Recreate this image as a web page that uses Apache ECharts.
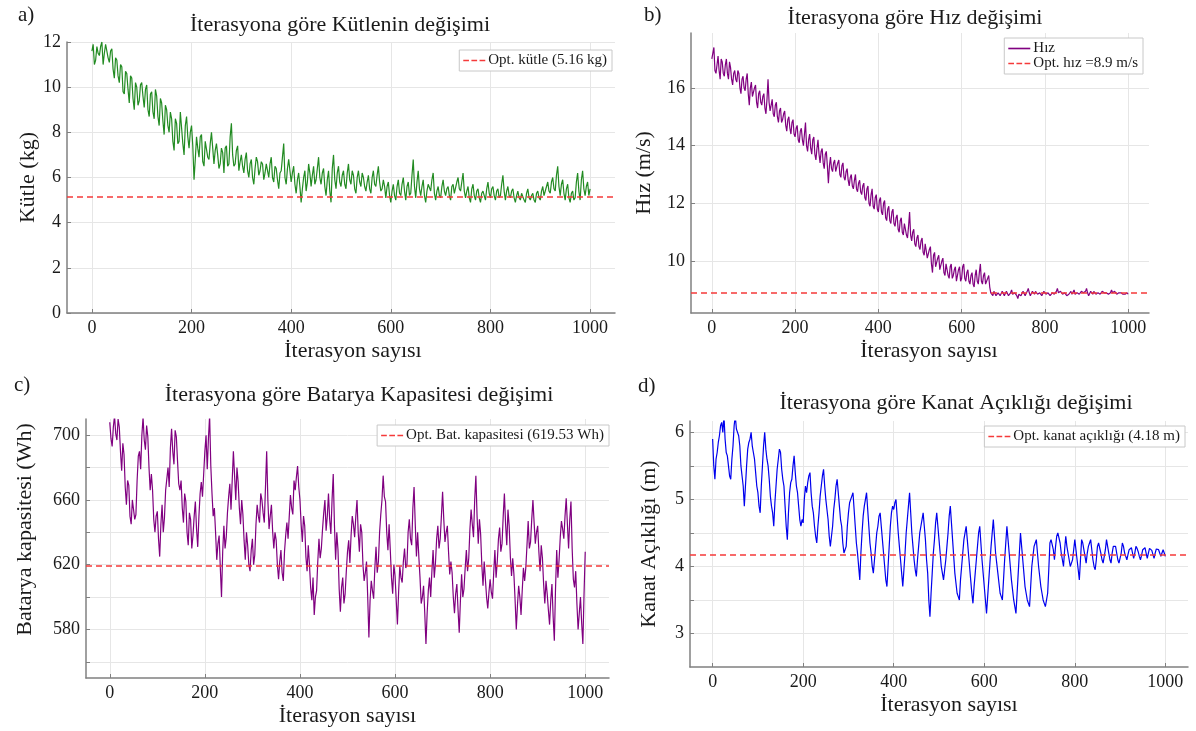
<!DOCTYPE html>
<html><head><meta charset="utf-8">
<script src="https://cdn.jsdelivr.net/npm/echarts@6/dist/echarts.min.js"></script>
<style>html,body{margin:0;padding:0;background:#fff}#c{width:1196px;height:731px}</style>
</head><body><div id="c"></div><script>
// sampled iterations: main samples every 5th iteration (0..1000), mid samples in between (2.5, 7.5, ... 997.5)
const iterations = Array.from({length: 201}, (_, i) => i * 5);
const midIterations = Array.from({length: 200}, (_, i) => i * 5 + 2.5);
const xTicks = [0, 200, 400, 600, 800, 1000];

const massValues = [
11.6,11.0,11.8,11.4,12.0,11.5,11.9,11.1,11.7,10.4,
11.2,10.2,10.9,9.7,10.6,9.3,10.4,9.0,10.0,9.4,
10.2,9.1,10.1,8.7,9.8,8.6,9.6,8.3,9.3,7.9,
9.0,8.0,8.6,7.2,8.4,7.6,8.2,7.0,8.7,7.3,
8.3,5.9,7.8,6.9,7.9,6.5,7.6,6.8,8.0,6.6,
7.5,6.4,7.3,6.2,7.4,6.6,8.4,6.5,7.2,6.3,
7.0,6.2,7.1,6.0,6.8,5.7,6.9,6.1,6.7,5.9,
6.6,6.0,6.9,5.8,6.4,5.5,6.3,7.5,5.7,6.8,
5.8,6.5,5.3,6.2,4.9,6.0,5.4,6.6,5.6,6.5,
5.9,6.9,5.7,6.4,5.2,6.3,4.9,7.0,5.5,6.5,
5.6,6.3,5.5,6.6,5.7,6.1,5.3,6.3,5.6,6.0,
5.4,6.1,5.3,6.3,5.6,6.5,5.4,5.9,5.1,5.8,
4.9,5.7,5.0,5.9,5.2,6.0,5.0,5.8,5.3,6.8,
5.1,6.3,5.2,5.9,4.9,5.7,5.4,6.2,5.0,5.6,
5.1,5.9,5.2,5.6,5.0,5.7,5.3,6.0,5.4,6.2,
5.1,5.6,4.9,5.7,5.0,5.5,4.9,5.4,5.0,5.8,
5.1,5.6,5.0,5.5,5.2,6.1,5.0,5.6,5.1,5.5,
4.9,5.4,5.0,5.3,4.9,5.5,5.0,5.3,4.9,5.4,
5.0,5.6,5.2,5.8,5.3,6.0,5.4,6.5,5.2,5.9,
5.0,5.7,4.9,5.4,5.1,6.2,5.0,6.3,5.2,5.8,
5.5];
const massMidValues = [
11.9,11.2,11.5,11.8,11.0,11.9,11.3,11.6,10.8,11.3,
10.5,11.0,9.8,10.7,9.9,10.5,9.5,10.2,9.2,10.1,
9.6,9.9,9.0,9.7,8.9,9.9,8.7,9.5,8.5,9.2,
8.3,8.9,7.6,8.6,7.5,8.9,7.5,8.3,7.8,8.0,
7.4,6.8,7.3,7.8,6.7,7.6,6.9,7.5,7.3,7.2,
7.0,6.6,7.1,7.3,6.5,7.8,7.0,6.6,7.4,6.7,
6.5,6.8,6.3,6.6,6.0,6.4,6.7,6.3,6.6,6.2,
6.3,6.6,6.0,6.5,5.9,6.2,6.9,6.0,6.4,6.3,
6.2,5.7,5.9,5.6,5.5,6.3,5.8,6.2,6.1,5.7,
6.4,6.0,6.2,5.6,5.9,5.4,6.4,5.9,6.2,5.8,
6.1,5.7,6.2,5.9,6.3,5.5,6.0,5.8,6.2,5.6,
5.8,5.5,6.0,5.7,6.1,5.8,5.5,5.6,5.6,5.2,
5.4,5.2,5.6,5.3,5.7,5.4,5.6,5.2,6.1,5.6,
5.8,5.5,5.6,5.2,5.4,5.7,5.9,5.3,5.4,5.2,
5.6,5.4,5.5,5.2,5.6,5.3,5.8,5.5,5.8,5.4,
5.4,5.1,5.5,5.2,5.4,5.1,5.3,5.2,5.5,5.3,
5.5,5.2,5.4,5.1,5.7,5.4,5.4,5.2,5.4,5.1,
5.2,5.1,5.3,5.0,5.3,5.1,5.2,5.0,5.3,5.1,
5.4,5.2,5.6,5.4,5.8,5.5,6.1,5.6,5.7,5.3,
5.5,5.1,5.3,5.0,5.8,5.4,5.9,5.5,5.6,5.2];

const speedValues = [
17.0,17.4,16.5,17.1,16.3,16.9,16.4,17.0,16.3,16.7,
16.1,16.6,16.2,16.5,15.8,16.4,15.9,16.5,15.4,16.2,
15.7,16.1,15.3,15.9,15.4,15.8,15.1,16.3,15.2,15.6,
15.0,15.5,14.8,15.3,14.9,15.2,14.5,15.0,14.4,14.9,
14.3,14.7,14.1,14.6,14.0,14.8,13.8,14.4,13.7,14.3,
13.5,14.2,13.4,13.9,13.2,13.8,12.7,13.6,13.1,13.5,
13.1,13.5,12.9,13.4,12.8,13.2,12.6,13.0,12.5,13.0,
12.4,12.8,12.3,12.7,12.1,12.6,11.9,12.5,11.8,12.3,
11.7,12.2,11.6,12.1,11.4,11.9,11.3,11.8,11.2,11.6,
11.0,11.5,10.9,11.3,10.8,11.7,10.7,11.1,10.5,10.9,
10.4,10.8,10.2,10.6,10.1,10.5,9.6,10.3,9.8,10.2,
9.7,10.1,9.5,9.9,9.4,9.9,9.5,9.8,9.3,9.8,
9.4,9.9,9.3,9.7,9.2,9.6,9.1,9.7,9.2,9.9,
9.2,9.6,9.3,9.5,8.9,8.8,9.0,8.75,8.95,8.8,
9.0,8.85,8.95,8.75,9.0,8.8,8.95,8.7,8.9,8.75,
9.0,8.85,9.05,8.8,8.95,8.85,9.0,8.8,8.95,8.85,
9.0,8.8,8.9,8.75,8.95,8.8,9.05,8.85,9.0,8.8,
8.95,8.75,8.9,8.85,9.0,8.8,8.95,8.8,9.0,8.85,
9.05,8.8,8.95,8.85,9.0,8.8,8.95,8.8,9.0,8.85,
8.95,8.8,9.0,8.85,8.95,8.8,8.95,8.85,8.9,8.8,
8.85];
const speedMidValues = [
17.2,16.6,16.8,16.6,17.0,16.5,16.8,16.5,16.9,16.3,
16.5,16.3,16.6,16.0,16.3,16.0,16.3,15.8,16.0,15.7,
16.0,15.5,15.8,15.5,15.7,15.3,15.6,15.5,15.4,15.1,
15.4,15.0,15.2,14.8,15.1,14.7,14.9,14.6,14.8,14.4,
14.6,14.2,14.5,14.2,14.4,14.0,14.2,13.9,14.2,13.7,
13.9,13.7,13.8,13.4,13.7,13.3,13.3,13.2,13.4,13.1,
13.4,13.0,13.3,12.9,13.1,12.8,12.9,12.6,12.8,12.5,
12.7,12.4,12.6,12.2,12.5,12.0,12.3,11.9,12.2,11.8,
12.1,11.7,12.0,11.5,11.8,11.4,11.7,11.3,11.5,11.1,
11.4,11.0,11.3,10.9,11.2,10.9,11.0,10.6,10.8,10.5,
10.7,10.3,10.6,10.1,10.4,9.9,10.2,9.8,10.1,9.7,
10.0,9.6,9.9,9.5,9.8,9.4,9.7,9.3,9.7,9.3,
9.8,9.4,9.6,9.3,9.5,9.2,9.5,9.3,9.6,9.3,
9.5,9.2,9.4,9.1,8.85,8.95,8.8,8.9,8.8,8.95,
8.8,8.95,8.8,8.9,8.85,8.9,8.8,8.85,8.8,8.95,
8.8,8.95,8.9,8.85,8.9,8.95,8.85,8.9,8.8,8.95,
8.85,8.9,8.8,8.9,8.85,8.95,8.9,8.95,8.85,8.9,
8.8,8.85,8.95,8.9,8.85,8.9,8.85,8.95,8.9,8.95,
8.9,8.85,8.9,8.95,8.85,8.9,8.85,8.95,8.9,8.9,
8.85,8.9,8.9,8.95,8.85,8.9,8.9,8.85,8.85,8.9];

const batteryValues = [
708,693,712,697,705,678,688,657,669,645,
659,651,687,679,711,691,699,666,666,640,
653,625,657,649,673,668,704,682,699,670,
672,646,659,632,648,638,659,631,664,662,
690,679,712,664,655,623,638,600,644,637,
662,654,690,660,671,645,651,623,632,616,
636,626,657,646,660,646,690,642,657,630,
635,611,629,610,638,636,663,651,666,681,
660,634,644,616,620,598,589,604,636,630,
652,641,664,639,676,623,629,591,612,602,
628,621,650,637,660,628,640,610,622,575,
610,599,631,622,651,675,659,629,629,602,
613,583,619,609,630,620,648,632,668,625,
625,596,607,571,604,600,629,621,644,636,
665,634,644,614,615,590,608,578,614,605,
629,624,654,637,675,633,639,607,611,593,
611,599,629,622,643,633,664,632,644,613,
614,580,607,589,618,618,647,634,660,633,
644,616,624,596,602,583,608,573,629,623,
647,636,661,630,659,611,616,580,600,571,
628];
const batteryMidValues = [
698,705,701,710,690,695,668,672,650,660,
648,672,690,700,697,706,680,676,648,650,
636,645,640,666,680,692,690,703,684,666,
655,664,640,652,630,650,642,650,671,676,
700,698,681,650,640,633,618,628,630,652,
670,672,675,680,655,660,635,640,620,629,
620,645,650,664,652,668,660,650,641,640,
620,622,615,628,646,650,655,672,674,668,
645,650,625,632,606,612,600,622,624,642,
660,650,648,660,645,640,605,606,596,616,
635,638,645,650,640,645,620,615,600,598,
604,618,615,640,660,662,640,645,612,620,
598,603,612,622,618,640,636,655,645,640,
612,600,590,590,612,616,612,636,630,650,
648,640,628,622,600,602,592,598,600,618,
616,642,645,660,650,648,620,622,600,603,
603,615,612,636,628,650,645,654,625,624,
598,595,600,604,610,632,630,648,646,640,
628,632,608,610,592,598,588,605,612,637,
642,650,645,648,630,606,596,590,584,602];

const spanValues = [
5.9,5.3,5.7,5.95,6.15,6.25,5.7,5.5,5.3,5.8,
6.25,6.0,5.8,5.35,4.9,5.5,5.85,6.0,5.7,5.4,
5.1,4.8,5.5,6.0,5.6,5.3,4.9,4.6,5.2,5.6,
5.7,5.3,4.9,4.4,5.1,5.3,5.65,5.2,4.9,4.6,
4.65,5.2,5.25,5.4,4.9,4.6,4.35,4.8,5.2,5.45,
5.0,4.7,4.3,4.6,5.0,5.3,4.9,4.6,4.2,4.3,
4.8,5.0,5.1,4.6,4.2,3.8,4.5,4.9,5.1,4.6,
4.2,3.9,4.3,4.6,4.8,4.4,4.0,3.7,4.3,4.8,
4.85,5.0,4.5,4.1,3.7,4.2,4.7,5.1,4.5,4.1,
3.85,4.3,4.6,4.8,4.4,3.9,3.25,3.9,4.4,4.8,
4.4,4.0,3.8,4.1,4.5,4.9,4.4,3.9,3.6,3.5,
4.0,4.4,4.6,4.2,3.8,3.45,3.9,4.3,4.6,4.1,
3.7,3.3,3.8,4.3,4.7,4.2,3.9,3.6,3.5,4.1,
4.6,4.2,3.8,3.5,3.3,3.9,4.5,4.1,3.7,3.5,
3.4,4.0,4.3,4.4,4.0,3.7,3.5,3.4,3.6,4.35,
4.4,4.1,4.45,4.5,4.2,4.0,4.45,4.2,4.0,4.1,
4.4,4.1,3.8,4.4,4.25,4.05,4.3,4.4,4.1,3.95,
4.3,4.35,4.1,4.05,4.4,4.2,4.05,4.3,4.3,4.1,
4.05,4.35,4.2,4.1,4.25,4.28,4.12,4.3,4.22,4.1,
4.25,4.28,4.12,4.27,4.24,4.12,4.26,4.25,4.15,4.25,
4.15];
const spanMidValues = [
5.5,5.6,5.85,6.1,6.0,5.9,5.65,5.35,5.6,6.1,
6.05,5.95,5.5,5.2,5.2,5.75,5.9,5.8,5.6,5.2,
4.9,5.2,5.8,5.75,5.5,5.05,4.8,4.95,5.45,5.75,
5.45,5.2,4.6,4.8,5.25,5.5,5.4,5.1,4.7,4.7,
5.0,5.1,5.35,5.1,4.8,4.45,4.6,5.05,5.35,5.2,
4.85,4.45,4.45,4.85,5.2,5.1,4.7,4.35,4.25,4.6,
4.95,5.05,4.85,4.35,4.0,4.2,4.75,5.0,4.85,4.35,
4.0,4.1,4.5,4.75,4.6,4.2,3.8,4.0,4.6,4.9,
4.95,4.75,4.3,3.9,3.95,4.5,4.9,4.8,4.3,3.95,
4.1,4.5,4.7,4.6,4.1,3.5,3.6,4.2,4.65,4.6,
4.2,3.9,3.95,4.3,4.75,4.65,4.15,3.75,3.55,3.8,
4.2,4.5,4.4,4.0,3.6,3.7,4.1,4.5,4.35,3.9,
3.5,3.55,4.05,4.5,4.45,4.05,3.75,3.55,3.8,4.35,
4.4,4.0,3.65,3.4,3.6,4.2,4.3,3.9,3.6,3.45,
3.7,4.15,4.35,4.2,3.85,3.6,3.45,3.5,3.95,4.4,
4.25,4.3,4.5,4.35,4.1,4.25,4.3,4.1,4.05,4.25,
4.25,3.95,4.1,4.35,4.15,4.2,4.35,4.25,4.0,4.1,
4.35,4.2,4.05,4.25,4.3,4.1,4.2,4.3,4.2,4.05,
4.2,4.3,4.15,4.18,4.27,4.2,4.2,4.27,4.15,4.17,
4.27,4.2,4.2,4.26,4.18,4.2,4.26,4.2,4.2,4.2];

const optMass = 5.16, optSpeed = 8.9, optBattery = 619.53, optSpan = 4.18;

const massTicks = [0, 2, 4, 6, 8, 10, 12];
const speedTicks = [10, 12, 14, 16];
const batteryTicks = [560, 580, 600, 620, 640, 660, 680, 700];
const batteryLabels = [580, 620, 660, 700];
const spanTicks = [3, 3.5, 4, 4.5, 5, 5.5, 6];
const spanLabels = [3, 4, 5, 6];

const titles = ['İterasyona göre Kütlenin değişimi', 'İterasyona göre Hız değişimi',
  'İterasyona göre Batarya Kapasitesi değişimi', 'İterasyona göre Kanat Açıklığı değişimi'];
const panelLetters = ['a)', 'b)', 'c)', 'd)'];
const yNames = ['Kütle (kg)', 'Hız (m/s)', 'Batarya kapasitesi (Wh)', 'Kanat Açıklığı (m)'];
const xName = 'İterasyon sayısı';
const optNames = ['Opt. kütle (5.16 kg)', 'Opt. hız =8.9 m/s', 'Opt. Bat. kapasitesi (619.53 Wh)', 'Opt. kanat açıklığı (4.18 m)'];
const speedName = 'Hız';

const FONT = '"Liberation Serif","Times New Roman",serif';
const TXT = '#1a1a1a';
const AX = '#808080';
const GRIDC = '#e6e6e6';
const RED = '#f53a3a';
const DASH_ICON = 'path://M0,0h7v2h-7z M10,0h7v2h-7z M20,0h7v2h-7z';
const SOLID_ICON = 'path://M0,0h27v2h-27z';

const grids = [
  {left: 67, top: 42, width: 548, height: 271},
  {left: 691, top: 33, width: 458, height: 280},
  {left: 86, top: 419, width: 523, height: 259},
  {left: 690, top: 421, width: 498, height: 246}
];

function xAxis(i, namePadLeft) {
  return {
    type: 'value', gridIndex: i, min: -50, max: 1050,
    name: xName, nameLocation: 'middle', nameGap: 27,
    nameTextStyle: {fontFamily: FONT, fontSize: 22, color: TXT, padding: [0, 0, 0, namePadLeft]},
    axisLine: {show: true, onZero: false, lineStyle: {color: AX, width: 1.5}},
    axisTick: {show: true, inside: true, length: 4, customValues: xTicks, lineStyle: {color: AX}},
    axisLabel: {customValues: xTicks, formatter: v => String(v), fontFamily: FONT, fontSize: 18, color: TXT, margin: 6},
    splitLine: {show: true, lineStyle: {color: GRIDC, width: 1}}
  };
}
function yAxis(i, min, max, ticks, labels, name, gap, namePadLeft) {
  return {
    type: 'value', gridIndex: i, min: min, max: max,
    name: name, nameLocation: 'middle', nameGap: gap,
    nameTextStyle: {fontFamily: FONT, fontSize: 22, color: TXT, padding: [0, 0, 0, namePadLeft]},
    axisLine: {show: true, onZero: false, lineStyle: {color: AX, width: 1.5}},
    axisTick: {show: true, inside: true, length: 4, customValues: ticks, lineStyle: {color: AX}},
    axisLabel: {customValues: labels, formatter: v => String(v), fontFamily: FONT, fontSize: 18, color: TXT, margin: 6},
    splitLine: {show: true, lineStyle: {color: GRIDC, width: 1}}
  };
}
function interleave(main, mid) {
  const out = [];
  main.forEach((v, k) => {
    out.push([iterations[k], v]);
    if (k < mid.length) out.push([midIterations[k], mid[k]]);
  });
  return out;
}
function dataSeries(i, name, main, mid, color) {
  return {
    type: 'line', name: name, xAxisIndex: i, yAxisIndex: i,
    data: interleave(main, mid),
    symbol: 'none', showSymbol: false, clip: true,
    lineStyle: {color: color, width: 1.2}, itemStyle: {color: color},
    emphasis: {disabled: true}, z: 2
  };
}
function optSeries(i, name, value) {
  return {
    type: 'line', name: name, xAxisIndex: i, yAxisIndex: i, data: [],
    symbol: 'none', lineStyle: {color: RED, width: 1.5, type: [6, 4]}, itemStyle: {color: RED},
    markLine: {silent: true, symbol: ['none', 'none'], label: {show: false},
      lineStyle: {color: RED, width: 1.5, type: [6, 4]}, data: [{yAxis: value}], animation: false},
    z: 3
  };
}
function legend(data, pos, orient) {
  return Object.assign({
    data: data, orient: orient || 'horizontal', selectedMode: false,
    itemWidth: 22, itemHeight: 10, itemGap: 0,
    padding: [3, 5, 3, 4], borderColor: '#c8c8c8', borderWidth: 1, backgroundColor: '#fff',
    textStyle: {fontFamily: FONT, fontSize: 15, color: TXT, padding: [0, 0, 0, -2]}
  }, pos);
}

const titlePos = [[340, 25], [915, 18], [359, 395], [956, 403]];
const letterPos = [[18, 15], [644, 15], [14, 385], [638, 386]];
const graphic = [];
titles.forEach((t, i) => graphic.push({type: 'text', x: titlePos[i][0], y: titlePos[i][1], silent: true,
  style: {text: t, font: '22px ' + FONT, fill: TXT, align: 'center', verticalAlign: 'middle'}}));
panelLetters.forEach((t, i) => graphic.push({type: 'text', x: letterPos[i][0], y: letterPos[i][1], silent: true,
  style: {text: t, font: '21px ' + FONT, fill: TXT, align: 'left', verticalAlign: 'middle'}}));

const option = {
  animation: false,
  backgroundColor: '#ffffff',
  grid: grids,
  graphic: graphic,
  xAxis: [xAxis(0, 24), xAxis(1, 18), xAxis(2, 0), xAxis(3, 20)],
  yAxis: [
    yAxis(0, 0, 12, massTicks, massTicks, yNames[0], 25, 0),
    yAxis(1, 8.2, 17.9, speedTicks, speedTicks, yNames[1], 36, 0),
    yAxis(2, 550, 710, batteryTicks, batteryLabels, yNames[2], 50, 38),
    yAxis(3, 2.5, 6.17, spanTicks, spanLabels, yNames[3], 30, 0)
  ],
  legend: [
    legend([{name: optNames[0], icon: DASH_ICON}], {right: 584, top: 50}),
    legend([{name: speedName, icon: SOLID_ICON}, {name: optNames[1], icon: DASH_ICON}], {right: 53, top: 38}, 'vertical'),
    legend([{name: optNames[2], icon: DASH_ICON}], {right: 587, top: 425}),
    legend([{name: optNames[3], icon: DASH_ICON}], {right: 11, top: 426})
  ],
  series: [
    dataSeries(0, 'Kütle', massValues, massMidValues, '#228b22'),
    optSeries(0, optNames[0], optMass),
    dataSeries(1, speedName, speedValues, speedMidValues, '#800080'),
    optSeries(1, optNames[1], optSpeed),
    dataSeries(2, 'Batarya', batteryValues, batteryMidValues, '#800080'),
    optSeries(2, optNames[2], optBattery),
    dataSeries(3, 'Kanat', spanValues, spanMidValues, '#0000ee'),
    optSeries(3, optNames[3], optSpan)
  ]
};
const chart = echarts.init(document.getElementById('c'), null, {renderer: 'canvas'});
chart.setOption(option);
</script></body></html>
